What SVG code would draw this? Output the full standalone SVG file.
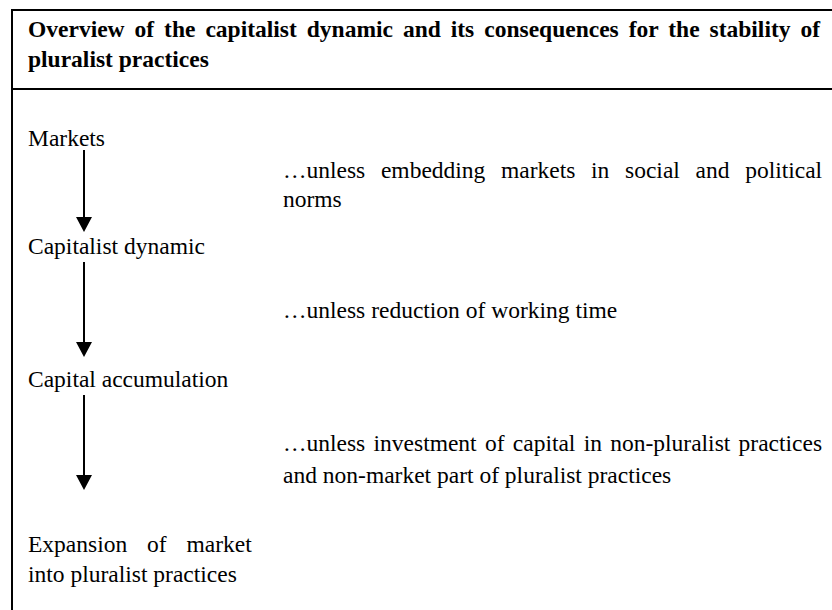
<svg xmlns="http://www.w3.org/2000/svg" width="832" height="610" viewBox="0 0 832 610">
  <style>
    .frame { stroke: #000; stroke-width: 2; fill: none; }
    .title { font-family: "Liberation Serif", "Times New Roman", serif; font-size: 23.5px; font-weight: bold; fill: #000; }
    .txt { font-family: "Liberation Serif", "Times New Roman", serif; font-size: 23.5px; fill: #000; }
    .flow { stroke: #000; stroke-width: 2; fill: none; }
    .head { fill: #000; }
  </style>
  <rect width="832" height="610" fill="#fff"/>

  <!-- table frame: top rule, header rule, left rule -->
  <g id="frame">
    <line class="frame" x1="11" y1="10" x2="832" y2="10"/>
    <line class="frame" x1="11" y1="89" x2="832" y2="89"/>
    <line class="frame" x1="12" y1="9" x2="12" y2="610"/>
  </g>

  <g id="title">
    <text class="title" x="28" y="37" word-spacing="4.1">Overview of the capitalist dynamic and its consequences for the stability of</text>
    <text class="title" x="28" y="67">pluralist practices</text>
  </g>

  <g id="node-markets">
    <text class="txt" x="28" y="146">Markets</text>
  </g>
  <g id="node-dynamic">
    <text class="txt" x="28" y="254">Capitalist dynamic</text>
  </g>
  <g id="node-accumulation">
    <text class="txt" x="28" y="387">Capital accumulation</text>
  </g>
  <g id="node-expansion">
    <text class="txt" x="28" y="552" word-spacing="14">Expansion of market</text>
    <text class="txt" x="28" y="582">into pluralist practices</text>
  </g>

  <g id="note-embedding">
    <text class="txt" x="283" y="178" word-spacing="9.8">…unless embedding markets in social and political</text>
    <text class="txt" x="283" y="207">norms</text>
  </g>
  <g id="note-working-time">
    <text class="txt" x="283" y="318">…unless reduction of working time</text>
  </g>
  <g id="note-investment">
    <text class="txt" x="283" y="451" word-spacing="2.4">…unless investment of capital in non-pluralist practices</text>
    <text class="txt" x="283" y="483">and non-market part of pluralist practices</text>
  </g>

  <!-- downward arrows between the stages -->
  <g id="connectors">
    <line class="flow" x1="84" y1="150" x2="84" y2="218"/>
    <path class="head" d="M76,217 L92,217 L84,232 Z"/>
    <line class="flow" x1="84" y1="262" x2="84" y2="343"/>
    <path class="head" d="M76,342 L92,342 L84,357 Z"/>
    <line class="flow" x1="84" y1="395" x2="84" y2="476"/>
    <path class="head" d="M76,475 L92,475 L84,490 Z"/>
  </g>
</svg>
